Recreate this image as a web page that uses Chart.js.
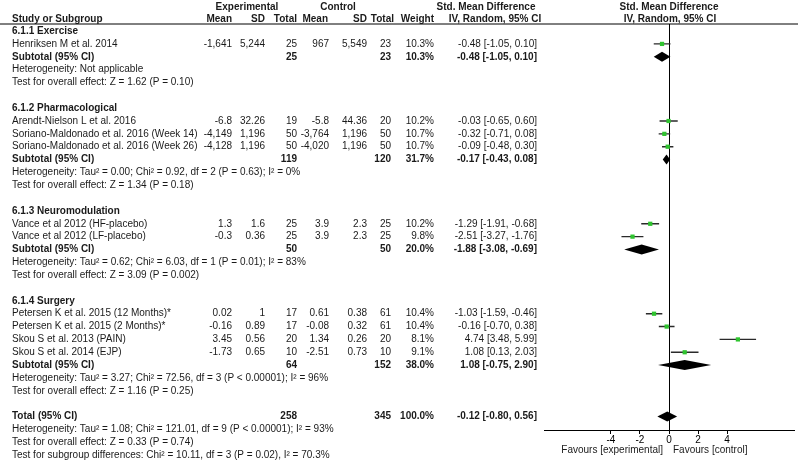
<!DOCTYPE html>
<html>
<head>
<meta charset="utf-8">
<title>Forest plot</title>
<script src="https://cdn.jsdelivr.net/npm/chart.js@4/dist/chart.umd.min.js"></script>
<style>
    body { margin: 0; background: #fff; }
    .chart-box { width: 800px; height: 465px; position: relative; }
</style>
</head>
<body>
<div class="chart-box">
    <canvas id="forest"></canvas>
</div>
<script>
const groupTitles = ['6.1.1 Exercise', '6.1.2 Pharmacological', '6.1.3 Neuromodulation', '6.1.4 Surgery'];

const studyNames = [
    'Henriksen M et al. 2014',
    'Arendt-Nielson L et al. 2016',
    'Soriano-Maldonado et al. 2016 (Week 14)',
    'Soriano-Maldonado et al. 2016 (Week 26)',
    'Vance et al 2012 (HF-placebo)',
    'Vance et al 2012 (LF-placebo)',
    'Petersen K et al. 2015 (12 Months)*',
    'Petersen K et al. 2015 (2 Months)*',
    'Skou S et al. 2013 (PAIN)',
    'Skou S et al. 2014 (EJP)'
];
const studyGroup = [0, 1, 1, 1, 2, 2, 3, 3, 3, 3];
const expMean = [-1641, -6.8, -4149, -4128, 1.3, -0.3, 0.02, -0.16, 3.45, -1.73];
const expSd = [5244, 32.26, 1196, 1196, 1.6, 0.36, 1, 0.89, 0.56, 0.65];
const expTotal = [25, 19, 50, 50, 25, 25, 17, 17, 20, 10];
const ctlMean = [967, -5.8, -3764, -4020, 3.9, 3.9, 0.61, -0.08, 1.34, -2.51];
const ctlSd = [5549, 44.36, 1196, 1196, 2.3, 2.3, 0.38, 0.32, 0.26, 0.73];
const ctlTotal = [23, 20, 50, 50, 25, 25, 61, 61, 20, 10];
const studyWeight = [10.3, 10.2, 10.7, 10.7, 10.2, 9.8, 10.4, 10.4, 8.1, 9.1];
const studySmd = [-0.48, -0.03, -0.32, -0.09, -1.29, -2.51, -1.03, -0.16, 4.74, 1.08];
const studyLow = [-1.05, -0.65, -0.71, -0.48, -1.91, -3.27, -1.59, -0.70, 3.48, 0.13];
const studyHigh = [0.10, 0.60, 0.08, 0.30, -0.68, -1.76, -0.46, 0.38, 5.99, 2.03];

const subExpTotal = [25, 119, 50, 64];
const subCtlTotal = [23, 120, 50, 152];
const subWeight = [10.3, 31.7, 20.0, 38.0];
const subSmd = [-0.48, -0.17, -1.88, 1.08];
const subLow = [-1.05, -0.43, -3.08, -0.75];
const subHigh = [0.10, 0.08, -0.69, 2.90];
const subHeterogeneity = [
    'Heterogeneity: Not applicable',
    'Heterogeneity: Tau² = 0.00; Chi² = 0.92, df = 2 (P = 0.63); I² = 0%',
    'Heterogeneity: Tau² = 0.62; Chi² = 6.03, df = 1 (P = 0.01); I² = 83%',
    'Heterogeneity: Tau² = 3.27; Chi² = 72.56, df = 3 (P < 0.00001); I² = 96%'
];
const subOverall = [
    'Test for overall effect: Z = 1.62 (P = 0.10)',
    'Test for overall effect: Z = 1.34 (P = 0.18)',
    'Test for overall effect: Z = 3.09 (P = 0.002)',
    'Test for overall effect: Z = 1.16 (P = 0.25)'
];

const totalRow = { exp: 258, ctl: 345, weight: 100.0, smd: -0.12, low: -0.80, high: 0.56 };
const totalNotes = [
    'Heterogeneity: Tau² = 1.08; Chi² = 121.01, df = 9 (P < 0.00001); I² = 93%',
    'Test for overall effect: Z = 0.33 (P = 0.74)',
    'Test for subgroup differences: Chi² = 10.11, df = 3 (P = 0.02), I² = 70.3%'
];

const xTicks = [-4, -2, 0, 2, 4];

// row layout: one line per row, blank line between groups
const studyRow = [];
const subRow = [];
const groupRow = [];
let row = 0;
groupTitles.forEach((title, g) => {
    groupRow.push(row++);
    studyNames.forEach((name, i) => {
        if (studyGroup[i] === g) {
            studyRow[i] = row++;
        }
    });
    subRow.push(row);
    row += 4;
});
const totalRowIndex = row;

const FONT = '"Liberation Sans", Arial, sans-serif';
const TEXT_COLOR = '#1a1a1a';

function fmt(v) {
    return v.toLocaleString('en-US', { maximumFractionDigits: 2 });
}
function ciText(est, lo, hi) {
    return `${est.toFixed(2)} [${lo.toFixed(2)}, ${hi.toFixed(2)}]`;
}

const ciData = [];
studyNames.forEach((name, i) => {
    ciData.push({ x: studyLow[i], y: studyRow[i] });
    ciData.push({ x: studyHigh[i], y: studyRow[i] });
    ciData.push({ x: studyHigh[i], y: null });
});
const pointData = studyNames.map((name, i) => ({ x: studySmd[i], y: studyRow[i] }));

const diamonds = subSmd.map((v, g) => ({ est: v, low: subLow[g], high: subHigh[g], row: subRow[g] }));
diamonds.push({ est: totalRow.smd, low: totalRow.low, high: totalRow.high, row: totalRowIndex });

const forestPlugin = {
    id: 'forest',
    beforeDatasetsDraw(chart) {
        const { ctx, chartArea, scales } = chart;
        const x0 = scales.x.getPixelForValue(0);
        ctx.save();
        ctx.strokeStyle = '#000';
        ctx.lineWidth = 1;
        ctx.beginPath();
        ctx.moveTo(0, chartArea.top);
        ctx.lineTo(798, chartArea.top);
        ctx.moveTo(Math.round(x0) + 0.5, chartArea.top);
        ctx.lineTo(Math.round(x0) + 0.5, chartArea.bottom);
        ctx.stroke();
        ctx.restore();
    },
    afterDatasetsDraw(chart) {
        const { ctx, scales } = chart;
        const x = scales.x;
        const y = scales.y;
        ctx.save();
        ctx.fillStyle = '#000';
        diamonds.forEach((d) => {
            const cy = y.getPixelForValue(d.row);
            ctx.beginPath();
            ctx.moveTo(x.getPixelForValue(d.low), cy);
            ctx.lineTo(x.getPixelForValue(d.est), cy - 5);
            ctx.lineTo(x.getPixelForValue(d.high), cy);
            ctx.lineTo(x.getPixelForValue(d.est), cy + 5);
            ctx.closePath();
            ctx.fill();
        });
        ctx.restore();
    },
    afterDraw(chart) {
        const { ctx, scales } = chart;
        const y = (r) => scales.y.getPixelForValue(r);
        const x0 = scales.x.getPixelForValue(0);
        const text = (str, px, py, align, bold) => {
            ctx.font = `${bold ? 'bold ' : ''}10px ${FONT}`;
            ctx.textAlign = align;
            ctx.fillText(str, px, py);
        };
        ctx.save();
        ctx.fillStyle = TEXT_COLOR;
        ctx.textBaseline = 'middle';

        // header
        const h1 = y(-1.87);
        const h2 = y(-0.93);
        text('Experimental', 247, h1, 'center', true);
        text('Control', 338, h1, 'center', true);
        text('Std. Mean Difference', 486, h1, 'center', true);
        text('Std. Mean Difference', x0, h1, 'center', true);
        text('Study or Subgroup', 12, h2, 'left', true);
        text('Mean', 232, h2, 'right', true);
        text('SD', 265, h2, 'right', true);
        text('Total', 297, h2, 'right', true);
        text('Mean', 328, h2, 'right', true);
        text('SD', 367, h2, 'right', true);
        text('Total', 394, h2, 'right', true);
        text('Weight', 434, h2, 'right', true);
        text('IV, Random, 95% CI', 495, h2, 'center', true);
        text('IV, Random, 95% CI', x0 + 1, h2, 'center', true);

        groupTitles.forEach((title, g) => {
            text(title, 12, y(groupRow[g]), 'left', true);
            const sy = y(subRow[g]);
            text('Subtotal (95% CI)', 12, sy, 'left', true);
            text(String(subExpTotal[g]), 297, sy, 'right', true);
            text(String(subCtlTotal[g]), 391, sy, 'right', true);
            text(subWeight[g].toFixed(1) + '%', 434, sy, 'right', true);
            text(ciText(subSmd[g], subLow[g], subHigh[g]), 537, sy, 'right', true);
            text(subHeterogeneity[g], 12, y(subRow[g] + 1), 'left', false);
            text(subOverall[g], 12, y(subRow[g] + 2), 'left', false);
        });

        studyNames.forEach((name, i) => {
            const sy = y(studyRow[i]);
            text(name, 12, sy, 'left', false);
            text(fmt(expMean[i]), 232, sy, 'right', false);
            text(fmt(expSd[i]), 265, sy, 'right', false);
            text(String(expTotal[i]), 297, sy, 'right', false);
            text(fmt(ctlMean[i]), 329, sy, 'right', false);
            text(fmt(ctlSd[i]), 367, sy, 'right', false);
            text(String(ctlTotal[i]), 391, sy, 'right', false);
            text(studyWeight[i].toFixed(1) + '%', 434, sy, 'right', false);
            text(ciText(studySmd[i], studyLow[i], studyHigh[i]), 537, sy, 'right', false);
        });

        const ty = y(totalRowIndex);
        text('Total (95% CI)', 12, ty, 'left', true);
        text(String(totalRow.exp), 297, ty, 'right', true);
        text(String(totalRow.ctl), 391, ty, 'right', true);
        text(totalRow.weight.toFixed(1) + '%', 434, ty, 'right', true);
        text(ciText(totalRow.smd, totalRow.low, totalRow.high), 537, ty, 'right', true);
        totalNotes.forEach((note, k) => {
            text(note, 12, y(totalRowIndex + 1 + k), 'left', false);
        });

        text('Favours [experimental]', x0 - 6, 450, 'right', false);
        text('Favours [control]', x0 + 4, 450, 'left', false);
        ctx.restore();
    }
};

new Chart(document.getElementById('forest'), {
    type: 'scatter',
    data: {
        datasets: [
            {
                label: 'SMD',
                data: pointData,
                pointStyle: 'rect',
                pointRadius: 3,
                backgroundColor: '#2fc42f',
                borderWidth: 0,
                order: 1
            },
            {
                label: 'CI',
                data: ciData,
                showLine: true,
                spanGaps: false,
                borderColor: '#2a2a2a',
                borderWidth: 1.4,
                pointRadius: 0,
                order: 2
            }
        ]
    },
    options: {
        responsive: true,
        maintainAspectRatio: false,
        animation: false,
        events: [],
        layout: { padding: { left: 544, right: 6, top: 24, bottom: 0 } },
        plugins: {
            legend: { display: false },
            tooltip: { enabled: false }
        },
        scales: {
            x: {
                type: 'linear',
                min: -8.6,
                max: 8.6,
                afterBuildTicks: (scale) => {
                    scale.ticks = xTicks.map((v) => ({ value: v }));
                },
                afterFit: (scale) => {
                    scale.height = 35;
                },
                ticks: {
                    color: '#000',
                    padding: 0,
                    font: { family: FONT, size: 10 },
                    callback: (v) => String(v)
                },
                grid: {
                    display: true,
                    drawOnChartArea: false,
                    drawTicks: true,
                    tickLength: 4,
                    color: '#000'
                },
                border: { display: true, color: '#000', width: 1 }
            },
            y: {
                type: 'linear',
                display: false,
                reverse: true,
                min: -0.55,
                max: 31.05
            }
        }
    },
    plugins: [forestPlugin]
});
</script>
</body>
</html>
